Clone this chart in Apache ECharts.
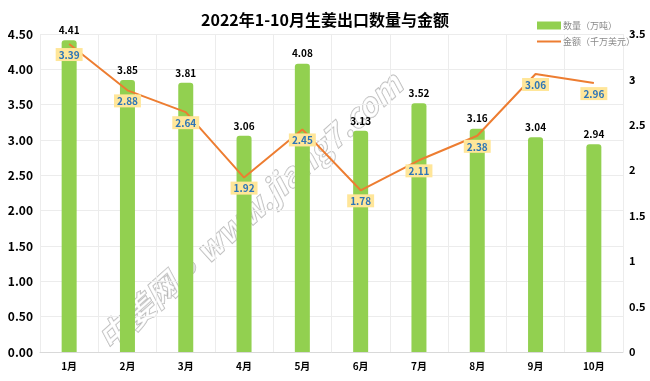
<!DOCTYPE html>
<html><head><meta charset="utf-8">
<script src="https://cdn.jsdelivr.net/npm/echarts@6/dist/echarts.min.js"></script>
<style>html,body{margin:0;padding:0;background:#fff}#c{width:650px;height:381px}</style>
</head><body><div id="c"></div>
<script>
var titleText = '2022年1-10月生姜出口数量与金额';
var months = ['1月','2月','3月','4月','5月','6月','7月','8月','9月','10月'];
var quantity = [4.41, 3.85, 3.81, 3.06, 4.08, 3.13, 3.52, 3.16, 3.04, 2.94];
var amount = [3.39, 2.88, 2.64, 1.92, 2.45, 1.78, 2.11, 2.38, 3.06, 2.96];
var qtyName = '数量（万吨）';
var amtName = '金额（千万美元）';
var watermark = '中姜网 ∘ www.jiang7.com';

var chart = echarts.init(document.getElementById('c'));
var font = '"Microsoft YaHei","Noto Sans CJK SC",sans-serif';
chart.setOption({
  animation: false,
  textStyle: {fontFamily: font},
  title: {text: titleText, left: 'center', top: 7,
    textStyle: {fontSize: 16, fontWeight: 'bold', color: '#000', fontFamily: font}},
  legend: {orient: 'vertical', left: 532, top: 16, itemGap: 7, itemWidth: 24, itemHeight: 8,
    textStyle: {fontSize: 9, color: '#8a8a8a', padding: [0,0,0,-3]},
    data: [{name: qtyName, icon: 'rect'}, {name: amtName, icon: 'path://M0,0 L30,0 L30,2.5 L0,2.5Z'}]},
  grid: {left: 40, right: 27, top: 34, bottom: 29},
  xAxis: {type: 'category', data: months,
    axisLine: {lineStyle: {color: '#d9d9d9'}}, axisTick: {show: false},
    axisLabel: {color: '#000', fontWeight: 'bold', fontSize: 10, margin: 9},
    splitLine: {show: true, lineStyle: {color: '#ececec'}}},
  yAxis: [
    {type: 'value', min: 0, max: 4.5, interval: 0.5,
      axisLabel: {formatter: function(v){return v.toFixed(2);}, color: '#000', fontWeight: 'bold', fontSize: 12, margin: 7},
      axisLine: {show: false}, axisTick: {show: false},
      splitLine: {lineStyle: {color: '#ececec'}}},
    {type: 'value', min: 0, max: 3.5, interval: 0.5,
      axisLabel: {color: '#000', fontWeight: 'bold', fontSize: 11, margin: 6},
      axisLine: {show: false}, axisTick: {show: false}, splitLine: {show: false}}
  ],
  graphic: [{type: 'text', rotation: Math.PI*42/180, z: -1,
    style: {text: watermark, font: 'italic bold 32px ' + font, fill: 'rgba(255,255,255,0.6)', stroke: 'rgba(120,120,120,0.55)', lineWidth: 1.2},
    x: 92, y: 332}],
  series: [
    {name: qtyName, type: 'bar', data: quantity, barWidth: 15, z: 1,
      itemStyle: {color: '#92d050', borderRadius: [3,3,0,0]},
      label: {show: true, position: 'top', color: '#000', fontWeight: 'bold', fontSize: 10, distance: 5,
        formatter: function(p){return p.value.toFixed(2);}}},
    {name: amtName, type: 'line', yAxisIndex: 1, data: amount, z: 3,
      symbol: 'circle', symbolSize: 0.1, showSymbol: true,
      lineStyle: {color: '#ed7d31', width: 2}, itemStyle: {color: '#ed7d31'},
      label: {show: true, position: 'bottom', distance: 4, color: '#2e75b6', fontWeight: 'bold', fontSize: 10,
        backgroundColor: '#ffe699', padding: [2,3,1,3],
        formatter: function(p){return p.value.toFixed(2);}}}
  ]
});
</script></body></html>
